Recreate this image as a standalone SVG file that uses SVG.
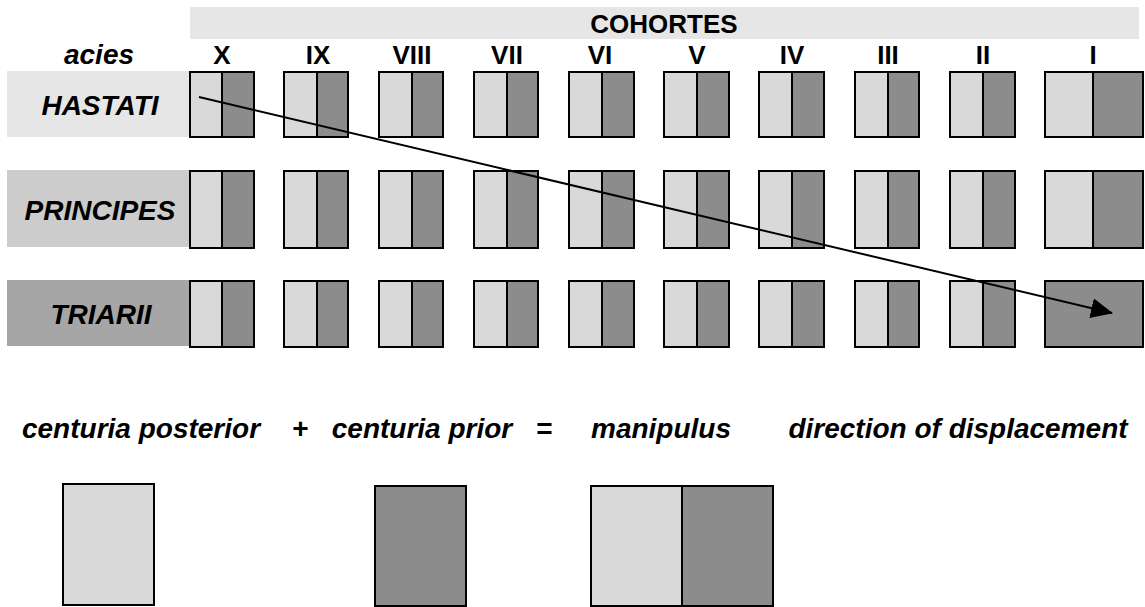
<svg xmlns="http://www.w3.org/2000/svg" width="1145" height="607" viewBox="0 0 1145 607">
<style>
.lt{fill:#d9d9d9}
.dk{fill:#8c8c8c}
.ol{fill:none;stroke:#000;stroke-width:2}
.dv{stroke:#000;stroke-width:2}
.t{font-family:"Liberation Sans",Arial,sans-serif;font-weight:bold;fill:#000;text-anchor:middle}
.it{font-style:italic;font-size:28px}
.num{font-size:26px}
</style>
<defs>
<marker id="ah" markerUnits="userSpaceOnUse" markerWidth="22" markerHeight="20" refX="21" refY="10" orient="auto">
<path d="M0,0 L22,10 L0,20 z" fill="#000"/>
</marker>
</defs>
<rect width="1145" height="607" fill="#fff"/>
<g id="header">
<rect x="190" y="7" width="949" height="32" fill="#e6e6e6"/>
<text class="t num" x="664" y="33">COHORTES</text>
<text class="t it" x="99" y="64">acies</text>
<text class="t num" x="222" y="64">X</text>
<text class="t num" x="318" y="64">IX</text>
<text class="t num" x="412" y="64">VIII</text>
<text class="t num" x="507" y="64">VII</text>
<text class="t num" x="600" y="64">VI</text>
<text class="t num" x="697" y="64">V</text>
<text class="t num" x="792" y="64">IV</text>
<text class="t num" x="888" y="64">III</text>
<text class="t num" x="983" y="64">II</text>
<text class="t num" x="1093" y="64">I</text>
</g>
<g id="label-hastati"><rect x="7" y="71" width="183" height="66" fill="#e6e6e6"/><text class="t it" x="100" y="115">HASTATI</text></g>
<g id="label-principes"><rect x="7" y="170" width="183" height="77" fill="#cccccc"/><text class="t it" x="100" y="220">PRINCIPES</text></g>
<g id="label-triarii"><rect x="7" y="280" width="183" height="66" fill="#a6a6a6"/><text class="t it" x="101" y="324">TRIARII</text></g>

<g id="hastati-X"><rect class="lt" x="190" y="72" width="64" height="65"/><rect class="dk" x="222" y="72" width="32" height="65"/><rect class="ol" x="190" y="72" width="64" height="65"/><line class="dv" x1="222" y1="72" x2="222" y2="137"/></g>
<g id="hastati-IX"><rect class="lt" x="284" y="72" width="64" height="65"/><rect class="dk" x="317" y="72" width="31" height="65"/><rect class="ol" x="284" y="72" width="64" height="65"/><line class="dv" x1="317" y1="72" x2="317" y2="137"/></g>
<g id="hastati-VIII"><rect class="lt" x="379" y="72" width="64" height="65"/><rect class="dk" x="412" y="72" width="31" height="65"/><rect class="ol" x="379" y="72" width="64" height="65"/><line class="dv" x1="412" y1="72" x2="412" y2="137"/></g>
<g id="hastati-VII"><rect class="lt" x="474" y="72" width="64" height="65"/><rect class="dk" x="507" y="72" width="31" height="65"/><rect class="ol" x="474" y="72" width="64" height="65"/><line class="dv" x1="507" y1="72" x2="507" y2="137"/></g>
<g id="hastati-VI"><rect class="lt" x="569" y="72" width="65" height="65"/><rect class="dk" x="602" y="72" width="32" height="65"/><rect class="ol" x="569" y="72" width="65" height="65"/><line class="dv" x1="602" y1="72" x2="602" y2="137"/></g>
<g id="hastati-V"><rect class="lt" x="664" y="72" width="65" height="65"/><rect class="dk" x="697" y="72" width="32" height="65"/><rect class="ol" x="664" y="72" width="65" height="65"/><line class="dv" x1="697" y1="72" x2="697" y2="137"/></g>
<g id="hastati-IV"><rect class="lt" x="759" y="72" width="65" height="65"/><rect class="dk" x="792" y="72" width="32" height="65"/><rect class="ol" x="759" y="72" width="65" height="65"/><line class="dv" x1="792" y1="72" x2="792" y2="137"/></g>
<g id="hastati-III"><rect class="lt" x="855" y="72" width="64" height="65"/><rect class="dk" x="888" y="72" width="31" height="65"/><rect class="ol" x="855" y="72" width="64" height="65"/><line class="dv" x1="888" y1="72" x2="888" y2="137"/></g>
<g id="hastati-II"><rect class="lt" x="950" y="72" width="65" height="65"/><rect class="dk" x="983" y="72" width="32" height="65"/><rect class="ol" x="950" y="72" width="65" height="65"/><line class="dv" x1="983" y1="72" x2="983" y2="137"/></g>
<g id="hastati-I"><rect class="lt" x="1045" y="72" width="98" height="65"/><rect class="dk" x="1093" y="72" width="50" height="65"/><rect class="ol" x="1045" y="72" width="98" height="65"/><line class="dv" x1="1093" y1="72" x2="1093" y2="137"/></g>

<g id="principes-X"><rect class="lt" x="190" y="171" width="64" height="77"/><rect class="dk" x="222" y="171" width="32" height="77"/><rect class="ol" x="190" y="171" width="64" height="77"/><line class="dv" x1="222" y1="171" x2="222" y2="248"/></g>
<g id="principes-IX"><rect class="lt" x="284" y="171" width="64" height="77"/><rect class="dk" x="317" y="171" width="31" height="77"/><rect class="ol" x="284" y="171" width="64" height="77"/><line class="dv" x1="317" y1="171" x2="317" y2="248"/></g>
<g id="principes-VIII"><rect class="lt" x="379" y="171" width="64" height="77"/><rect class="dk" x="412" y="171" width="31" height="77"/><rect class="ol" x="379" y="171" width="64" height="77"/><line class="dv" x1="412" y1="171" x2="412" y2="248"/></g>
<g id="principes-VII"><rect class="lt" x="474" y="171" width="64" height="77"/><rect class="dk" x="507" y="171" width="31" height="77"/><rect class="ol" x="474" y="171" width="64" height="77"/><line class="dv" x1="507" y1="171" x2="507" y2="248"/></g>
<g id="principes-VI"><rect class="lt" x="569" y="171" width="65" height="77"/><rect class="dk" x="602" y="171" width="32" height="77"/><rect class="ol" x="569" y="171" width="65" height="77"/><line class="dv" x1="602" y1="171" x2="602" y2="248"/></g>
<g id="principes-V"><rect class="lt" x="664" y="171" width="65" height="77"/><rect class="dk" x="697" y="171" width="32" height="77"/><rect class="ol" x="664" y="171" width="65" height="77"/><line class="dv" x1="697" y1="171" x2="697" y2="248"/></g>
<g id="principes-IV"><rect class="lt" x="759" y="171" width="65" height="77"/><rect class="dk" x="792" y="171" width="32" height="77"/><rect class="ol" x="759" y="171" width="65" height="77"/><line class="dv" x1="792" y1="171" x2="792" y2="248"/></g>
<g id="principes-III"><rect class="lt" x="855" y="171" width="64" height="77"/><rect class="dk" x="888" y="171" width="31" height="77"/><rect class="ol" x="855" y="171" width="64" height="77"/><line class="dv" x1="888" y1="171" x2="888" y2="248"/></g>
<g id="principes-II"><rect class="lt" x="950" y="171" width="65" height="77"/><rect class="dk" x="983" y="171" width="32" height="77"/><rect class="ol" x="950" y="171" width="65" height="77"/><line class="dv" x1="983" y1="171" x2="983" y2="248"/></g>
<g id="principes-I"><rect class="lt" x="1045" y="171" width="98" height="77"/><rect class="dk" x="1093" y="171" width="50" height="77"/><rect class="ol" x="1045" y="171" width="98" height="77"/><line class="dv" x1="1093" y1="171" x2="1093" y2="248"/></g>

<g id="triarii-X"><rect class="lt" x="190" y="281" width="64" height="66"/><rect class="dk" x="222" y="281" width="32" height="66"/><rect class="ol" x="190" y="281" width="64" height="66"/><line class="dv" x1="222" y1="281" x2="222" y2="347"/></g>
<g id="triarii-IX"><rect class="lt" x="284" y="281" width="64" height="66"/><rect class="dk" x="317" y="281" width="31" height="66"/><rect class="ol" x="284" y="281" width="64" height="66"/><line class="dv" x1="317" y1="281" x2="317" y2="347"/></g>
<g id="triarii-VIII"><rect class="lt" x="379" y="281" width="64" height="66"/><rect class="dk" x="412" y="281" width="31" height="66"/><rect class="ol" x="379" y="281" width="64" height="66"/><line class="dv" x1="412" y1="281" x2="412" y2="347"/></g>
<g id="triarii-VII"><rect class="lt" x="474" y="281" width="64" height="66"/><rect class="dk" x="507" y="281" width="31" height="66"/><rect class="ol" x="474" y="281" width="64" height="66"/><line class="dv" x1="507" y1="281" x2="507" y2="347"/></g>
<g id="triarii-VI"><rect class="lt" x="569" y="281" width="65" height="66"/><rect class="dk" x="602" y="281" width="32" height="66"/><rect class="ol" x="569" y="281" width="65" height="66"/><line class="dv" x1="602" y1="281" x2="602" y2="347"/></g>
<g id="triarii-V"><rect class="lt" x="664" y="281" width="65" height="66"/><rect class="dk" x="697" y="281" width="32" height="66"/><rect class="ol" x="664" y="281" width="65" height="66"/><line class="dv" x1="697" y1="281" x2="697" y2="347"/></g>
<g id="triarii-IV"><rect class="lt" x="759" y="281" width="65" height="66"/><rect class="dk" x="792" y="281" width="32" height="66"/><rect class="ol" x="759" y="281" width="65" height="66"/><line class="dv" x1="792" y1="281" x2="792" y2="347"/></g>
<g id="triarii-III"><rect class="lt" x="855" y="281" width="64" height="66"/><rect class="dk" x="888" y="281" width="31" height="66"/><rect class="ol" x="855" y="281" width="64" height="66"/><line class="dv" x1="888" y1="281" x2="888" y2="347"/></g>
<g id="triarii-II"><rect class="lt" x="950" y="281" width="65" height="66"/><rect class="dk" x="983" y="281" width="32" height="66"/><rect class="ol" x="950" y="281" width="65" height="66"/><line class="dv" x1="983" y1="281" x2="983" y2="347"/></g>
<g id="triarii-I"><rect class="dk" x="1045" y="281" width="98" height="66"/><rect class="ol" x="1045" y="281" width="98" height="66"/></g>

<g id="connectors">
<line x1="199" y1="97" x2="1112" y2="313" stroke="#000" stroke-width="2" marker-end="url(#ah)"/>
</g>

<g id="legend-text">
<text class="t it" x="141" y="438">centuria posterior</text>
<text class="t it" x="300" y="438">+</text>
<text class="t it" x="422" y="438">centuria prior</text>
<text class="t it" x="544" y="438">=</text>
<text class="t it" x="661" y="438">manipulus</text>
<text class="t it" x="958" y="438">direction of displacement</text>
</g>
<g id="legend-posterior"><rect class="lt" x="63" y="484" width="91" height="121"/><rect class="ol" x="63" y="484" width="91" height="121"/></g>
<g id="legend-prior"><rect class="dk" x="375" y="486" width="91" height="120"/><rect class="ol" x="375" y="486" width="91" height="120"/></g>
<g id="legend-manipulus"><rect class="lt" x="591" y="486" width="182" height="120"/><rect class="dk" x="682" y="486" width="91" height="120"/><rect class="ol" x="591" y="486" width="182" height="120"/><line class="dv" x1="682" y1="486" x2="682" y2="606"/></g>
</svg>
